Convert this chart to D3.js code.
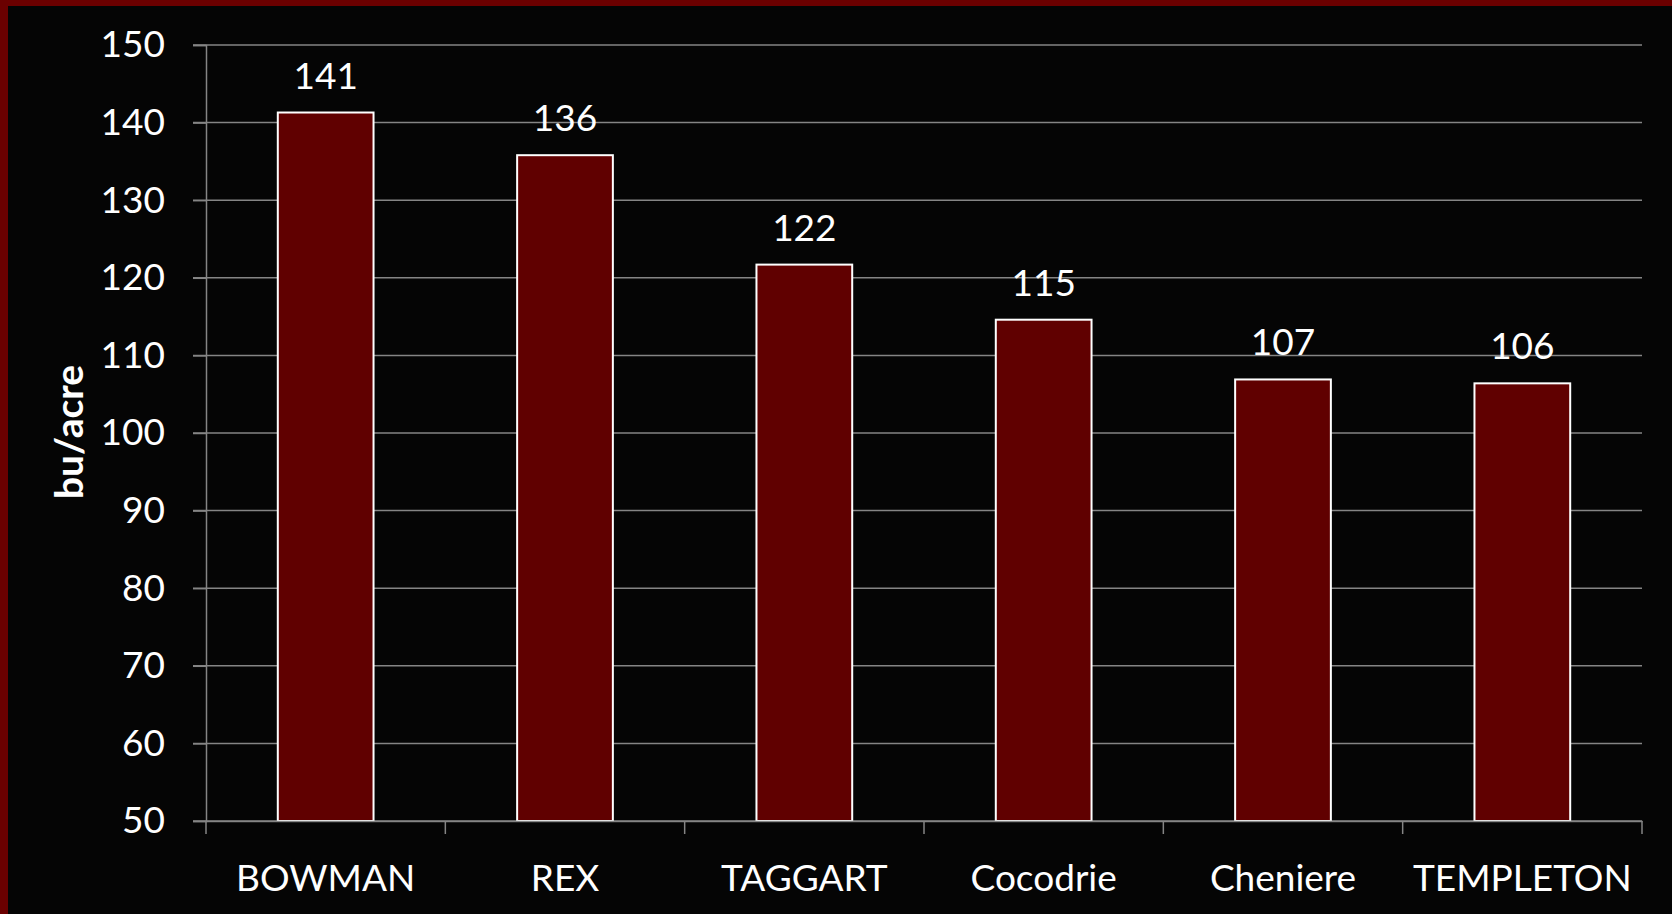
<!DOCTYPE html>
<html><head><meta charset="utf-8">
<script src="https://cdn.jsdelivr.net/npm/d3@7"></script>
<style>
html,body{margin:0;padding:0;background:#050505;}
svg{display:block;}
</style></head>
<body>
<svg id="chart" width="1672" height="914"></svg>
<script>
const categories = ["BOWMAN", "REX", "TAGGART", "Cocodrie", "Cheniere", "TEMPLETON"];
const values = [141.3, 135.8, 121.7, 114.6, 106.9, 106.4];
const yTicks = [50, 60, 70, 80, 90, 100, 110, 120, 130, 140, 150];
const yTitle = "bu/acre";

const W = 1672, H = 914;
const svg = d3.select("#chart");
svg.append("rect").attr("width", W).attr("height", H).attr("fill", "#050505");
// frame (top and left edges visible)
svg.append("rect").attr("x", 0).attr("y", 0).attr("width", W).attr("height", 6).attr("fill", "#6b0000");
svg.append("rect").attr("x", 0).attr("y", 0).attr("width", 8).attr("height", H).attr("fill", "#6b0000");

const x = d3.scaleBand().domain(categories).range([206, 1642]).paddingInner(0).paddingOuter(0);
const y = d3.scaleLinear().domain([50, 150]).range([821, 45]);
const font = "Lato, 'Open Sans', sans-serif";

// gridlines
svg.append("g").selectAll("line").data(yTicks).join("line")
  .attr("x1", 193).attr("x2", 1642)
  .attr("y1", d => y(d)).attr("y2", d => y(d))
  .attr("stroke", "#858585").attr("stroke-width", 1.5);

// y axis
const yAxis = svg.append("g").attr("transform", "translate(206,0)")
  .call(d3.axisLeft(y).tickValues(yTicks).tickSize(13).tickPadding(28));
yAxis.select(".domain").attr("stroke", "#858585").attr("stroke-width", 1.5);
yAxis.selectAll(".tick line").attr("stroke", "#858585").attr("stroke-width", 1.5);
yAxis.selectAll(".tick text").attr("fill", "#ffffff").attr("font-family", font).attr("font-size", 37);

// bars
const bw = x.bandwidth() * 0.4;
svg.append("g").selectAll("rect").data(categories).join("rect")
  .attr("x", d => x(d) + (x.bandwidth() - bw) / 2)
  .attr("width", bw)
  .attr("y", (d, i) => y(values[i]))
  .attr("height", (d, i) => y(50) - y(values[i]))
  .attr("fill", "#600000").attr("stroke", "#ffffff").attr("stroke-width", 2);

// x axis
const xAxis = svg.append("g").attr("transform", "translate(0,821)")
  .call(d3.axisBottom(x).tickSize(0).tickPadding(44));
xAxis.select(".domain").attr("stroke", "#858585").attr("stroke-width", 1.5);
xAxis.selectAll(".tick text").attr("fill", "#ffffff").attr("font-family", font).attr("font-size", 37);
// category boundary ticks
const bounds = categories.map(c => x(c)).concat([x(categories[categories.length - 1]) + x.bandwidth()]);
svg.append("g").selectAll("line").data(bounds).join("line")
  .attr("x1", d => d).attr("x2", d => d).attr("y1", 821).attr("y2", 834)
  .attr("stroke", "#858585").attr("stroke-width", 1.5);

// value labels
svg.append("g").selectAll("text").data(categories).join("text")
  .attr("x", d => x(d) + x.bandwidth() / 2)
  .attr("y", (d, i) => y(values[i]) - 24)
  .attr("text-anchor", "middle")
  .attr("fill", "#ffffff").attr("font-family", font).attr("font-size", 37)
  .text((d, i) => Math.round(values[i]));

// y title
svg.append("text")
  .attr("transform", `translate(83,432) rotate(-90)`)
  .attr("text-anchor", "middle")
  .attr("fill", "#ffffff").attr("font-family", font).attr("font-weight", "bold").attr("font-size", 39)
  .text(yTitle);
</script>
</body></html>
